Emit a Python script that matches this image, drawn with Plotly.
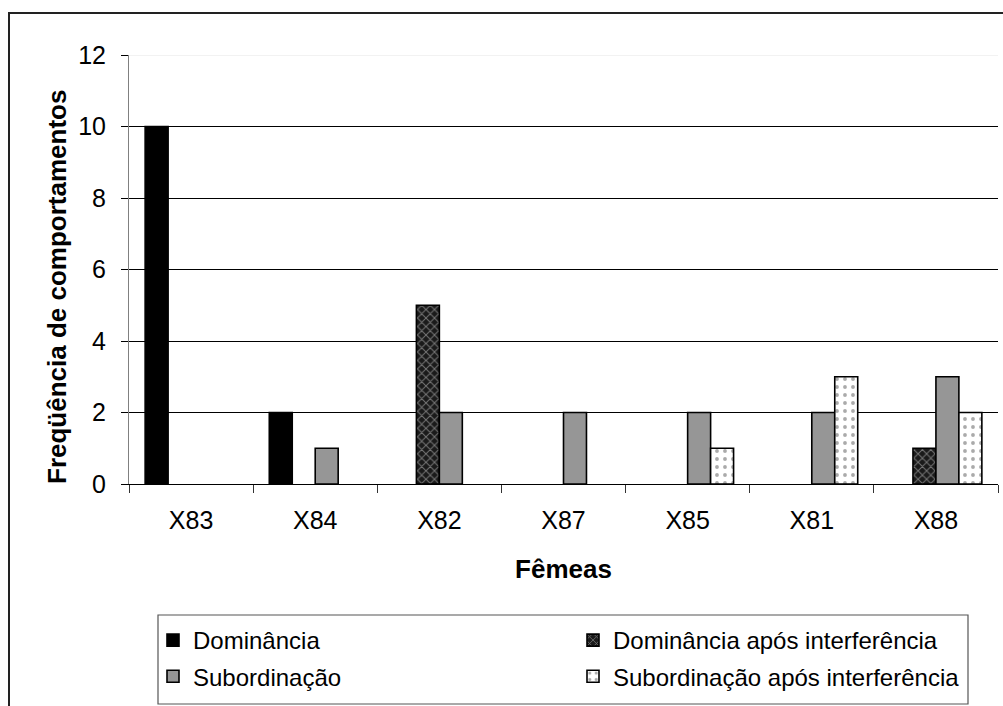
import plotly.graph_objects as go

# Females (categories) and behaviour counts per series
femeas = ["X83", "X84", "X82", "X87", "X85", "X81", "X88"]
dominancia = [10, 2, 0, 0, 0, 0, 0]
dominancia_apos = [0, 0, 5, 0, 0, 0, 1]
subordinacao = [0, 1, 2, 2, 2, 2, 3]
subordinacao_apos = [0, 0, 0, 0, 1, 3, 2]
y_ticks = [0, 2, 4, 6, 8, 10, 12]

FONT = "Liberation Sans, Arial, sans-serif"
W, H = 1003, 706
PL, PR, PT, PB = 129, 998, 55, 484  # plot area in pixels


def px(x):
    return (x - PL) / (PR - PL)


def py(y):
    return (PB - y) / (PB - PT)


def drawn(values):
    # zero counts get no bar at all (not even a flat outline)
    return [v if v else None for v in values]


outline = dict(color="black", width=1.6)

fig = go.Figure()
fig.add_bar(
    x=femeas, y=drawn(dominancia), name="Dominância", legend="legend",
    legendgroup="a", marker=dict(color="black", line=outline),
)
fig.add_bar(
    x=femeas, y=drawn(dominancia_apos), name="Dominância após interferência",
    legend="legend2", legendgroup="b",
    marker=dict(color="black", line=outline,
                pattern=dict(shape="x", bgcolor="#1a1a1a", fgcolor="#d0d0d0",
                             size=6, solidity=0.3)),
)
fig.add_bar(
    x=femeas, y=drawn(subordinacao), name="Subordinação", legend="legend",
    legendgroup="c", marker=dict(color="#969696", line=outline),
)
fig.add_bar(
    x=femeas, y=drawn(subordinacao_apos), name="Subordinação após interferência",
    legend="legend2", legendgroup="d",
    marker=dict(color="white", line=outline,
                pattern=dict(shape=".", bgcolor="white", fgcolor="#555555",
                             size=8, solidity=0.18)),
)

legend_common = dict(
    orientation="v", xanchor="left", yanchor="top",
    bgcolor="rgba(0,0,0,0)", borderwidth=0, tracegroupgap=2,
    font=dict(family=FONT, size=24, color="black"),
    itemclick=False, itemdoubleclick=False,
)

fig.update_layout(
    width=W, height=H,
    margin=dict(l=PL, r=W - PR, t=PT, b=H - PB, autoexpand=False),
    paper_bgcolor="white", plot_bgcolor="white",
    barmode="group", bargap=0.26, bargroupgap=0,
    font=dict(family=FONT, size=24, color="black"),
    legend=dict(x=px(153), y=py(618), **legend_common),
    legend2=dict(x=px(573), y=py(618), **legend_common),
    xaxis=dict(
        type="category", showline=True, linecolor="black", linewidth=1,
        ticks="outside", tickson="boundaries", ticklen=8, tickcolor="#333",
        tickfont=dict(size=25), ticklabelstandoff=14,
        showgrid=False, zeroline=False,
        title=dict(text="<b>Fêmeas</b>", font=dict(size=26), standoff=26),
    ),
    yaxis=dict(
        range=[0, 12], tickvals=y_ticks, showline=True, linecolor="#808080",
        linewidth=1, ticks="outside", ticklen=7, tickcolor="black",
        tickfont=dict(size=25), ticklabelstandoff=10,
        showgrid=True, gridcolor="black", gridwidth=1, zeroline=False,
    ),
    showlegend=True,
)

# y axis title, rotated
fig.add_annotation(
    text="<b>Freqüência de comportamentos</b>", textangle=-90,
    xref="paper", yref="paper", x=px(57), y=py(287),
    xanchor="center", yanchor="middle", showarrow=False,
    font=dict(family=FONT, size=26, color="black"),
)

# light top gridline
fig.add_shape(type="line", xref="paper", yref="y", x0=0, x1=1, y0=12, y1=12,
              line=dict(color="#e6e6e6", width=1), layer="above")
# legend frame
fig.add_shape(type="rect", xref="paper", yref="paper",
              x0=px(158), x1=px(968), y0=py(704), y1=py(615),
              line=dict(color="#555555", width=1.2), fillcolor="rgba(0,0,0,0)")
# outer chart frame
fig.add_shape(type="rect", xref="paper", yref="paper",
              x0=px(9), x1=px(1015), y0=py(720), y1=py(13),
              line=dict(color="#222222", width=2), fillcolor="rgba(0,0,0,0)")

fig.write_html("out.html")
